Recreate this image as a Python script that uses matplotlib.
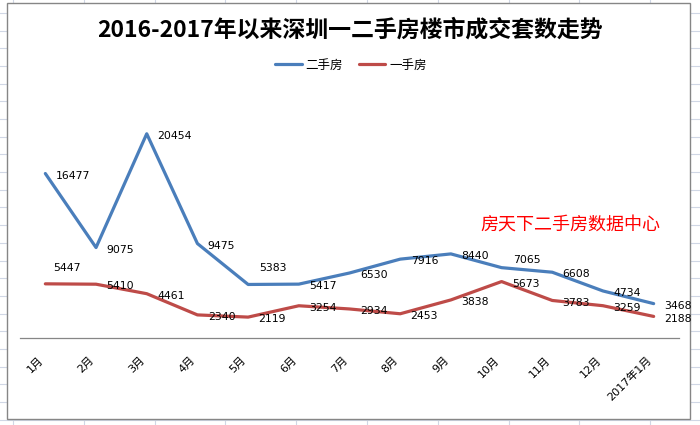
import matplotlib
matplotlib.use('Agg')
import matplotlib.pyplot as plt
from matplotlib.patches import Rectangle

plt.rcParams['font.family'] = ['DejaVu Sans', 'Noto Sans CJK SC']

# ---- data ----
months = ['1月', '2月', '3月', '4月', '5月', '6月', '7月', '8月', '9月',
          '10月', '11月', '12月', '2017年1月']
second_hand = [16477, 9075, 20454, 9475, 5383, 5417, 6530, 7916, 8440,
               7065, 6608, 4734, 3468]
first_hand = [5447, 5410, 4461, 2340, 2119, 3254, 2934, 2453, 3838,
              5673, 3783, 3259, 2188]
series_names = ['二手房', '一手房']
title = '2016-2017年以来深圳一二手房楼市成交套数走势'
watermark = '房天下二手房数据中心'

# ---- style ----
W, H = 700, 425
blue = '#4A7EBB'
red = '#BE4B48'
grid_c = '#d0d7e5'
cjk = ['Noto Sans CJK SC', 'DejaVu Sans']

fig = plt.figure(figsize=(W / 100, H / 100), dpi=100)

# spreadsheet background and chart frame
bg = fig.add_axes([0, 0, 1, 1])
bg.set_xlim(0, W)
bg.set_ylim(H, 0)
bg.axis('off')
for k in range(11):
    bg.axvline(13 + 70.8 * k, color=grid_c, lw=0.8, zorder=0)
for k in range(25):
    bg.axhline(13 + 17.68 * k, color=grid_c, lw=0.8, zorder=0)
bg.add_patch(Rectangle((7, 3), 683, 416, facecolor='white',
                       edgecolor='#868686', lw=1.0, zorder=1))

# main plot
ax = fig.add_axes([20 / W, (H - 338.3) / H, 659 / W, 250 / H])
ax.patch.set_alpha(0)
x = list(range(len(months)))
l1, = ax.plot(x, second_hand, color=blue, lw=2.3, solid_joinstyle='round',
              solid_capstyle='round', label=series_names[0])
l2, = ax.plot(x, first_hand, color=red, lw=2.3, solid_joinstyle='round',
              solid_capstyle='round', label=series_names[1])
ax.set_xlim(-0.5, len(months) - 0.5)
ax.set_ylim(0, 25000)
for s in ['left', 'top', 'right']:
    ax.spines[s].set_visible(False)
ax.spines['bottom'].set_color('#868686')
ax.spines['bottom'].set_linewidth(0.9)
ax.tick_params(axis='y', left=False, labelleft=False)
ax.set_xticks(x)
ax.set_xticklabels(months, rotation=45, ha='right', va='top', fontsize=8)
ax.tick_params(axis='x', length=0, pad=12)

# data labels
default_off = (7.5, -1.5)
blue_off = {4: (8, 11.5), 9: (8, 5.8)}
red_off = {0: (5.8, 11.5)}
for i, v in enumerate(second_hand):
    ax.annotate(str(v), (i, v), xytext=blue_off.get(i, default_off),
                textcoords='offset points', ha='left', va='center',
                fontsize=7.8, color='black')
for i, v in enumerate(first_hand):
    ax.annotate(str(v), (i, v), xytext=red_off.get(i, default_off),
                textcoords='offset points', ha='left', va='center',
                fontsize=7.8, color='black')

# title
fig.text(350 / W, 1 - 37 / H, title, ha='center', va='baseline',
         fontsize=16.5, fontweight='bold', family=cjk)

# legend
fig.legend(handles=[l1, l2], loc='center', bbox_to_anchor=(351 / W, 1 - 65 / H),
           ncol=2, frameon=False, prop={'family': cjk, 'size': 9},
           handlelength=2.1, handletextpad=0.3, columnspacing=1.3)

# watermark
fig.text(480 / W, 1 - 226 / H, watermark, ha='left', va='center',
         fontsize=13, color='#FF0000', family=cjk)

fig.savefig('out.png', dpi=100)
